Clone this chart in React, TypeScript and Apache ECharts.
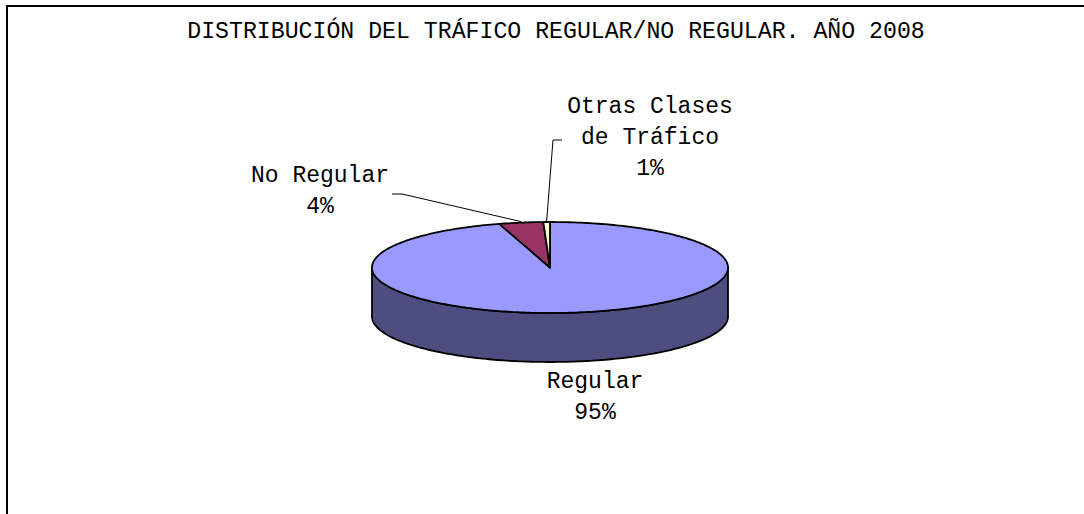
import React, { useEffect, useRef } from "react";
import * as echarts from "echarts";

// ---- data ----
const TITLE = "DISTRIBUCIÓN DEL TRÁFICO REGULAR/NO REGULAR. AÑO 2008";
const categories = ["Regular", "No Regular", "Otras Clases de Tráfico"];
const labelNames = [["Regular"], ["No Regular"], ["Otras Clases", "de Tráfico"]];
const values = [95.4, 4.0, 0.6];
const topColors = ["#9999FF", "#993366", "#FFFFCC"];
const sideColors = ["#4D4D80", "#4D1A33", "#808066"];

// ---- layout ----
const CX = 550;
const CY = 267.5;
const RX = 178;
const RY = 45.5;
const DEPTH = 49;
const FONT = "Liberation Mono";
const FS = 23;
const LH = 31;
// label first-line centre and leader elbow points (null = no leader)
const labelLayout: { x: number; y: number; elbow: number[][] | null }[] = [
  { x: 595, y: 382, elbow: null },
  { x: 320, y: 176, elbow: [[392, 194], [402, 194]] },
  { x: 650, y: 107, elbow: [[562, 140], [553, 140]] },
];

export default function App() {
  const ref = useRef<HTMLDivElement>(null);
  useEffect(() => {
    document.body.style.margin = "0";
    if (!ref.current) return;
    const chart = echarts.init(ref.current, null, { renderer: "svg" });
    const total = values.reduce((a, b) => a + b, 0);
    const pt = (a: number, dy = 0) => [CX + RX * Math.sin(a), CY - RY * Math.cos(a) + dy];
    const arc = (a0: number, a1: number, dy = 0) => {
      const n = Math.max(2, Math.ceil(Math.abs(a1 - a0) / (Math.PI / 180)));
      const out: number[][] = [];
      for (let k = 0; k <= n; k++) out.push(pt(a0 + ((a1 - a0) * k) / n, dy));
      return out;
    };
    const renderItem = (params: any, api: any) => {
      const i = params.dataIndex;
      const v = api.value(0);
      let start = 0;
      for (let j = 0; j < i; j++) start += values[j];
      const a0 = (start / total) * Math.PI * 2;
      const a1 = ((start + v) / total) * Math.PI * 2;
      const children: any[] = [];
      const s0 = Math.max(a0, Math.PI / 2);
      const s1 = Math.min(a1, (Math.PI * 3) / 2);
      if (s1 > s0) {
        const pts = arc(s0, s1).concat(arc(s1, s0, DEPTH));
        children.push({
          type: "polygon",
          z2: 1,
          shape: { points: pts },
          style: { fill: sideColors[i], stroke: "#000", lineWidth: 1.8, lineJoin: "round" },
        });
      }
      const topPts = [[CX, CY]].concat(arc(a0, a1));
      children.push({
        type: "polygon",
        z2: 2,
        shape: { points: topPts },
        style: { fill: topColors[i], stroke: "#000", lineWidth: 1.8, lineJoin: "round" },
      });
      const L = labelLayout[i];
      const pct = Math.round((v / total) * 100) + "%";
      const lines = labelNames[i].concat([pct]);
      lines.forEach((t, k) => {
        children.push({
          type: "text",
          z2: 3,
          style: {
            text: t,
            x: L.x,
            y: L.y + k * LH,
            fill: "#000",
            fontSize: FS,
            fontFamily: FONT,
            align: "center",
            verticalAlign: "middle",
          },
        });
      });
      if (L.elbow) {
        const mid = (a0 + a1) / 2;
        const anchor = pt(mid, -1);
        children.push({
          type: "polyline",
          z2: 3,
          shape: { points: L.elbow.concat([anchor]) },
          style: { stroke: "#000", lineWidth: 1, fill: "none" },
        });
      }
      return { type: "group", children };
    };
    chart.setOption({
      animation: false,
      backgroundColor: "#fff",
      title: {
        text: TITLE,
        left: 551,
        top: 15,
        textAlign: "center",
        textStyle: { fontFamily: FONT, fontSize: 23.2, fontWeight: "normal", color: "#000" },
      },
      graphic: [
        {
          type: "rect",
          silent: true,
          shape: { x: 7, y: 6, width: 1200, height: 600 },
          style: { fill: "none", stroke: "#000", lineWidth: 2 },
        },
      ],
      series: [
        {
          type: "custom",
          coordinateSystem: "none",
          renderItem,
          data: values.map((v, i) => ({ name: categories[i], value: [v] })),
        },
      ],
    });
    return () => chart.dispose();
  }, []);
  return <div ref={ref} style={{ width: 1084, height: 514 }} />;
}
